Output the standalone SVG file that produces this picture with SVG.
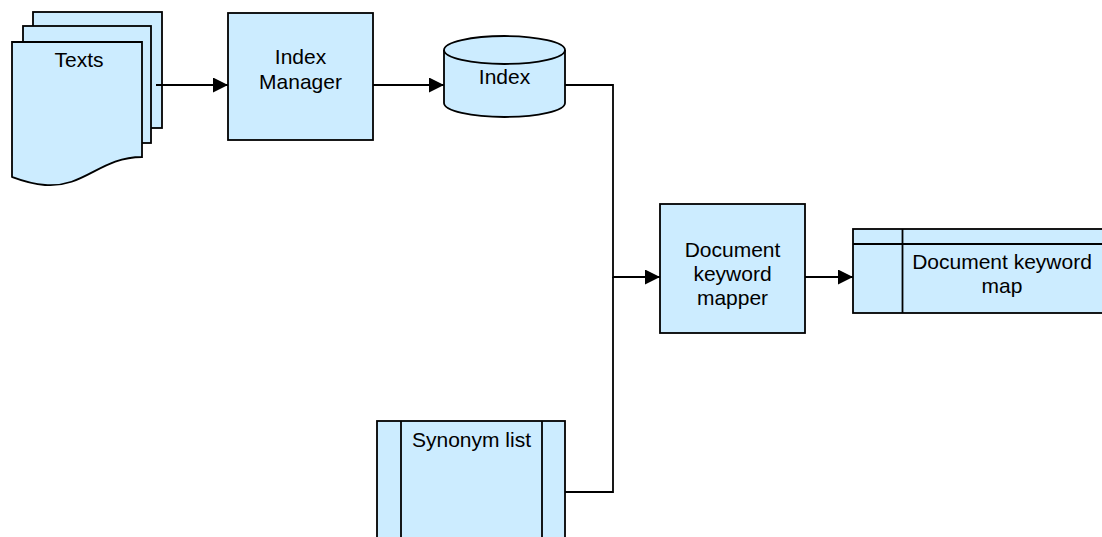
<svg xmlns="http://www.w3.org/2000/svg" width="1102" height="537" viewBox="0 0 1102 537">
<defs>
<style>
.shape{fill:#CCECFF;stroke:#000;stroke-width:1.8}
.line{fill:none;stroke:#000;stroke-width:1.8}
.lbl{font-family:"Liberation Sans",Arial,sans-serif;font-size:21px;fill:#000;text-anchor:middle}
</style>
<marker id="arr" viewBox="0 0 15 15" refX="15" refY="7.5" markerWidth="15" markerHeight="15" markerUnits="userSpaceOnUse" orient="auto">
<path d="M0,0 L15,7.5 L0,15 Z" fill="#000"/>
</marker>
</defs>
<rect width="1102" height="537" fill="#fff"/>
<g id="texts">
<rect class="shape" x="33" y="12" width="129" height="116"/>
<rect class="shape" x="23" y="26" width="128" height="117"/>
<path class="shape" d="M12,42 H142 V157 C100,157 85,188 45,185 C30,184 20,180 12,177 Z"/>
<text class="lbl" x="79" y="67">Texts</text>
</g>
<g id="index-manager">
<rect class="shape" x="228" y="13" width="145" height="127"/>
<text class="lbl" x="300.5" y="64">Index</text>
<text class="lbl" x="300.5" y="89">Manager</text>
</g>
<g id="index">
<path class="shape" d="M444,50 A60.5,14 0 0 1 565,50 V103 A60.5,14 0 0 1 444,103 Z"/>
<path class="line" d="M444,50 A60.5,14 0 0 0 565,50"/>
<text class="lbl" x="504.5" y="84">Index</text>
</g>
<g id="mapper">
<rect class="shape" x="660" y="204" width="145" height="129"/>
<text class="lbl" x="732.5" y="256.5">Document</text>
<text class="lbl" x="732.5" y="280.5">keyword</text>
<text class="lbl" x="732.5" y="304.5">mapper</text>
</g>
<g id="keyword-map">
<rect class="shape" x="853" y="229" width="252" height="84"/>
<line class="line" x1="853" y1="244" x2="1105" y2="244"/>
<line class="line" x1="902.5" y1="229" x2="902.5" y2="313"/>
<text class="lbl" x="1002" y="269">Document keyword</text>
<text class="lbl" x="1002" y="293">map</text>
</g>
<g id="synonym-list">
<rect class="shape" x="377" y="421" width="188" height="120"/>
<line class="line" x1="401" y1="421" x2="401" y2="541"/>
<line class="line" x1="542" y1="421" x2="542" y2="541"/>
<text class="lbl" x="471.5" y="447">Synonym list</text>
</g>
<g id="connectors">
<path class="line" d="M156,85 H228" marker-end="url(#arr)"/>
<path class="line" d="M373,85 H444" marker-end="url(#arr)"/>
<path class="line" d="M565,85 H613 V277 H660" marker-end="url(#arr)"/>
<path class="line" d="M565,492 H613 V277"/>
<path class="line" d="M805,277 H853" marker-end="url(#arr)"/>
</g>
</svg>
